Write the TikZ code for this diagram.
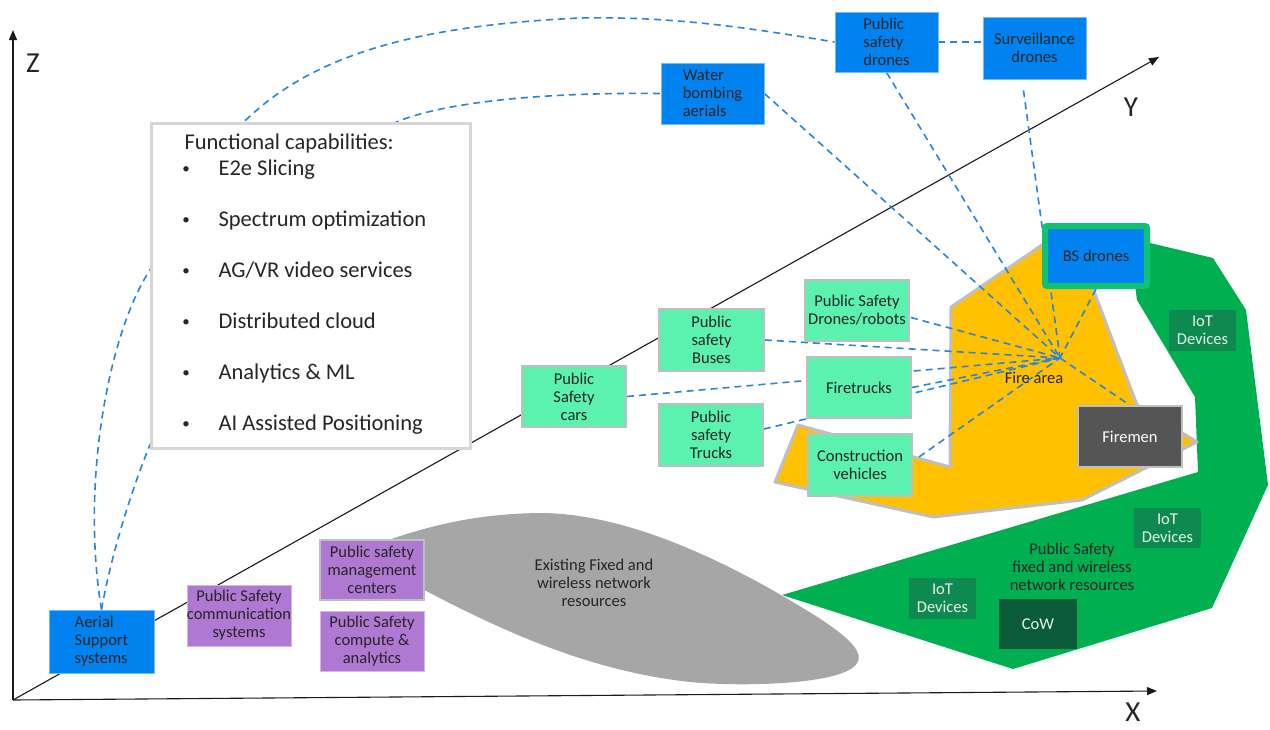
\documentclass[tikz,border=0pt]{standalone}
\usepackage{fontspec}
\setmainfont{Carlito}
\usetikzlibrary{arrows.meta,calc}

\definecolor{txt}{HTML}{262626}
\definecolor{eblue}{HTML}{0082F0}
\definecolor{mint}{HTML}{5AF2AE}
\definecolor{epurple}{HTML}{AF78D2}
\definecolor{fireorange}{HTML}{FFC000}
\definecolor{netgreen}{HTML}{00B050}
\definecolor{bsgreen}{HTML}{0FC373}
\definecolor{iotgreen}{HTML}{0E8A50}
\definecolor{cowgreen}{HTML}{0A5C38}
\definecolor{iottext}{HTML}{E6F4EC}
\definecolor{blobgray}{HTML}{A6A6A6}
\definecolor{firegray}{HTML}{555555}
\definecolor{edgegray}{HTML}{BFBFBF}
\definecolor{framegray}{HTML}{D6D6D6}
\definecolor{linkblue}{HTML}{2A84D8}
\definecolor{axisblack}{HTML}{1A1A1A}

\newcommand\bxfont{\fontsize{16.5}{18}\selectfont}
\newcommand\fcfont{\fontsize{22.5}{27}\selectfont}
\newcommand\axfont{\fontsize{29}{32}\selectfont}

\pgfdeclarelayer{regions}
\pgfdeclarelayer{links}
\pgfsetlayers{regions,links,main}

\begin{document}
\begin{tikzpicture}[x=1pt,y=-1pt,
  base/.style={rectangle, inner sep=0pt, align=center, font=\bxfont, text=txt},
  bluebox/.style={base, fill=eblue, draw=eblue!55!white, line width=0.8pt},
  mintbox/.style={base, fill=mint, draw=edgegray, line width=1.8pt},
  purplebox/.style={base, fill=epurple, draw=epurple!55!white, line width=0.8pt},
  iotbox/.style={base, fill=iotgreen, text=iottext, minimum width=67pt, minimum height=41pt},
  link/.style={draw=linkblue, line width=1.6pt, dash pattern=on 7pt off 5pt},
  axis/.style={draw=axisblack, line width=1.1pt, -{Triangle[length=10pt,width=8pt]}},
  caption/.style={font=\bxfont, text=txt, align=center},
  listtext/.style={font=\fcfont, text=txt, anchor=base west}]

\useasboundingbox (0,0) rectangle (1270,729);

% ---------- boxes ----------
\node[bluebox, align=left, minimum width=103pt, minimum height=60pt] (psd) at (886.5,42) {Public\\safety\\drones};
\node[bluebox, minimum width=103pt, minimum height=62pt] (surv) at (1034.5,48) {Surveillance\\drones};
\node[bluebox, align=left, minimum width=103pt, minimum height=61pt] (wba) at (712.5,93.5) {Water\\bombing\\aerials};
\node[bluebox, align=left, minimum width=105pt, minimum height=63pt] (aerial) at (101.5,641.5) {Aerial\\Support\\systems};

\node[purplebox, minimum width=102pt, minimum height=61pt] (comm) at (239,615.5) {Public Safety\\communication\\systems};
\node[purplebox, draw=edgegray, line width=1.5pt, minimum width=104pt, minimum height=60pt] (mgmt) at (372,570) {Public safety\\management\\centers};
\node[purplebox, minimum width=104pt, minimum height=60pt] (comp) at (372,641) {Public Safety\\compute \&\\analytics};

\node[mintbox, minimum width=104pt, minimum height=61pt] (cars) at (574,396.5) {Public\\Safety\\cars};
\node[mintbox, minimum width=105pt, minimum height=62pt] (bus) at (711.5,340) {Public\\safety\\Buses};
\node[mintbox, minimum width=104pt, minimum height=61pt] (psdr) at (857,310.5) {Public Safety\\Drones/robots};
\node[mintbox, minimum width=104pt, minimum height=61pt] (ft) at (859,387.5) {Firetrucks};
\node[mintbox, minimum width=104pt, minimum height=62pt] (trucks) at (711,435) {Public\\safety\\Trucks};
\node[mintbox, minimum width=104pt, minimum height=62pt] (cv) at (860,465) {Construction\\vehicles};

\node[base, fill=firegray, draw=edgegray, line width=1.6pt, text=white, minimum width=104pt, minimum height=61pt] (firemen) at (1130,436.5) {Firemen};
\node[bluebox, draw=bsgreen, line width=6pt, rounded corners=2pt, minimum width=102pt, minimum height=60pt] (bs) at (1096,256) {BS drones};

\node[iotbox] (iot1) at (1202.5,330.5) {IoT\\Devices};
\node[iotbox, minimum height=40pt] (iot2) at (1167.5,528) {IoT\\Devices};
\node[iotbox] (iot3) at (942.5,598.5) {IoT\\Devices};
\node[base, fill=cowgreen, text=iottext, minimum width=78pt, minimum height=50pt] (cow) at (1038,624) {CoW};

% ---------- capability list ----------
\node[draw=framegray, line width=3pt, fill=white, minimum width=319pt, minimum height=325pt, inner sep=0pt] (func) at (310.5,285.5) {};
\node[listtext] (fchead) at (181,149) {Functional capabilities:};
\foreach \item [count=\i] in {E2e Slicing, Spectrum optimization, AG/VR video services, Distributed cloud, Analytics \& ML, AI Assisted Positioning} {
  \node[font=\fontsize{15}{18}\selectfont, text=txt, anchor=base] (bullet\i) at (186,{173+(\i-1)*51}) {•};
  \node[listtext] (item\i) at (215,{175+(\i-1)*51}) {\item};
}

% ---------- area captions ----------
\node[caption] (firelabel) at (1034,378) {Fire area};
\node[caption] (netlabel) at (1072,567) {Public Safety\\fixed and wireless\\network resources};
\node[caption] (bloblabel) at (594,583) {Existing Fixed and\\wireless network\\resources};

% ---------- axis labels ----------
\node[font=\axfont, text=txt] (zlab) at (33,63) {Z};
\node[font=\axfont, text=txt] (ylab) at (1131,107.5) {Y};
\node[font=\axfont, text=txt] (xlab) at (1133,712) {X};

% ---------- shaded regions ----------
\begin{pgfonlayer}{regions}
  \fill[white] (0,0) rectangle (1270,729);
  \fill[netgreen] (782,595) -- (1198,472) -- (1195,397) -- (1137,300) -- (1135,285) -- (1150,243)
    -- (1213,258) -- (1246,310) -- (1268,485) -- (1212,608) -- (1013,669) -- cycle;
  \filldraw[fill=fireorange, draw=edgegray, line width=3pt, line join=round]
    (951,307) -- (1042,245) -- (1060,232) -- (1095,232) -- (1092,286) -- (1137,405) -- (1197,442)
    -- (1082,500) -- (933,517) -- (775,482) -- (798,425) -- (950,467) -- cycle;
  \fill[blobgray] (380,543) .. controls (430,525) and (480,513) .. (545,513)
    .. controls (620,515) and (700,550) .. (767,587)
    .. controls (810,612) and (870,645) .. (857,663)
    .. controls (845,685) and (740,687) .. (690,682)
    .. controls (600,672) and (520,640) .. (430,593)
    .. controls (400,578) and (360,552) .. (380,543) -- cycle;
\end{pgfonlayer}

% ---------- axes and links ----------
\begin{pgfonlayer}{links}
  \coordinate (O) at (13,700);
  \coordinate (Zend) at (13,30);
  \coordinate (Xend) at (1157,691);
  \coordinate (Yend) at (1159,57);
  \draw[axis] (O) -- (Zend);
  \draw[axis] (O) -- (Xend);
  \draw[axis] (O) -- (Yend);

  \draw[link] (aerial.north) .. controls (80,480) and (110,330) .. (150,270)
    .. controls (175,200) and (210,150) .. (248,118)
    .. controls (320,50) and (430,25) .. (580,18)
    .. controls (680,16) and (760,30) .. (psd.west);
  \draw[link] (aerial.north) .. controls (112,550) and (135,480) .. (152,440)
    .. controls (250,300) and (340,150) .. (392,124)
    .. controls (430,106) and (520,92) .. (wba.west);
  \draw[link] (psd.east) -- (psd.east -| surv.west);

  \coordinate (hub) at (1060,358);
  \draw[link] (wba.east) -- (hub);
  \draw[link] (psd.south) -- (hub);
  \draw[link] ($(surv.south)+(-11,11)$) -- (hub);
  \draw[link] (bs.south) -- (hub);
  \draw[link] ($(psdr.east)+(1,7)$) -- (hub);
  \draw[link] (bus.east) -- (hub);
  \draw[link] (cars.east) -- (hub);
  \draw[link] ($(trucks.east)+(0,-6)$) -- (hub);
  \draw[link] (ft.east) -- (hub);
  \draw[link] ($(cv.east)+(6,-8)$) -- (hub);
  \draw[link] (hub) -- (firemen.north);
\end{pgfonlayer}

\end{tikzpicture}
\end{document}
